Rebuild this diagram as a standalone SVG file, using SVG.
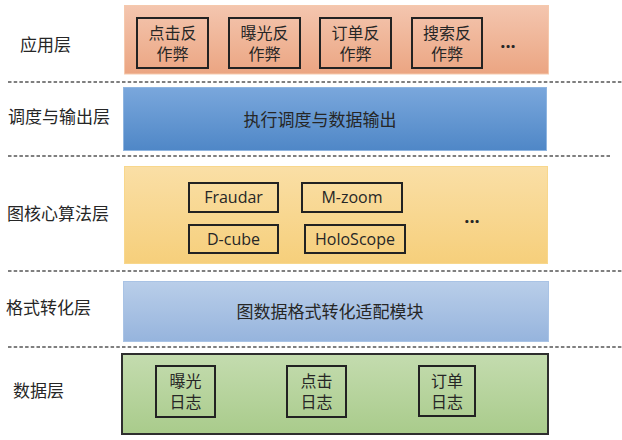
<svg xmlns="http://www.w3.org/2000/svg" width="622" height="440" viewBox="0 0 622 440">
<defs>
<linearGradient id="gOrange" x1="0" y1="0" x2="0" y2="1"><stop offset="0" stop-color="#f4c6af"/><stop offset="1" stop-color="#eba582"/></linearGradient>
<linearGradient id="gBlue" x1="0" y1="0" x2="0" y2="1"><stop offset="0" stop-color="#7aa7dc"/><stop offset="1" stop-color="#4f87c7"/></linearGradient>
<linearGradient id="gYellow" x1="0" y1="0" x2="0" y2="1"><stop offset="0" stop-color="#fadfa6"/><stop offset="1" stop-color="#f6cf7b"/></linearGradient>
<linearGradient id="gLight" x1="0" y1="0" x2="0" y2="1"><stop offset="0" stop-color="#b9cee9"/><stop offset="1" stop-color="#96b4dd"/></linearGradient>
<linearGradient id="gGreen" x1="0" y1="0" x2="0" y2="1"><stop offset="0" stop-color="#c4dcaf"/><stop offset="1" stop-color="#a9cb8b"/></linearGradient>
</defs>
<style>
text{font-family:"Open Sans","Noto Sans CJK SC",sans-serif;fill:#262626;}
.lbl{font-size:17px;}
.in{font-size:17px;text-anchor:middle;}
.in2{font-size:16px;text-anchor:middle;}
.en{font-size:16px;text-anchor:middle;}
.box{fill:none;stroke:#222;stroke-width:2;}
.sep{stroke:#555;stroke-width:1.3;stroke-dasharray:3.5 2.2;fill:none;}
.dots{font-size:18px;font-weight:bold;text-anchor:middle;}
</style>
<rect width="622" height="440" fill="#ffffff"/>

<g id="separators">
<line class="sep" x1="8" y1="82" x2="622" y2="82"/>
<line class="sep" x1="8" y1="156" x2="610" y2="156"/>
<line class="sep" x1="8" y1="271" x2="622" y2="271"/>
<line class="sep" x1="8" y1="347" x2="622" y2="347"/>
</g>
<g id="connectors"></g>

<g id="layer-app">
<text class="lbl" x="20" y="51">应用层</text>
<rect x="124.5" y="5.5" width="424" height="68.5" fill="url(#gOrange)" stroke="#f5c9ad" stroke-width="1"/>
<g id="app-click"><rect class="box" x="137" y="18" width="71" height="50"/><text class="in2" x="172.5" y="39">点击反</text><text class="in2" x="172.5" y="60">作弊</text></g>
<g id="app-expose"><rect class="box" x="229" y="18" width="71" height="50"/><text class="in2" x="264.5" y="39">曝光反</text><text class="in2" x="264.5" y="60">作弊</text></g>
<g id="app-order"><rect class="box" x="320" y="18" width="71" height="50"/><text class="in2" x="355.5" y="39">订单反</text><text class="in2" x="355.5" y="60">作弊</text></g>
<g id="app-search"><rect class="box" x="412" y="18" width="70" height="50"/><text class="in2" x="447" y="39">搜索反</text><text class="in2" x="447" y="60">作弊</text></g>
<text class="dots" x="508" y="48">...</text>
</g>

<g id="layer-schedule">
<text class="lbl" x="8" y="123">调度与输出层</text>
<rect x="123.5" y="87.5" width="423" height="63" fill="url(#gBlue)" stroke="#8fb5e0" stroke-width="1"/>
<text class="in" x="320" y="126">执行调度与数据输出</text>
</g>

<g id="layer-algo">
<text class="lbl" x="7" y="220">图核心算法层</text>
<rect x="124.5" y="166.5" width="423" height="97" fill="url(#gYellow)" stroke="#f8d78c" stroke-width="1"/>
<g id="algo-fraudar"><rect class="box" x="189" y="183" width="89" height="29"/><text class="en" x="233.5" y="203">Fraudar</text></g>
<g id="algo-mzoom"><rect class="box" x="302" y="183" width="100" height="29"/><text class="en" x="352" y="203">M-zoom</text></g>
<g id="algo-dcube"><rect class="box" x="189" y="225" width="89" height="28"/><text class="en" x="233.5" y="245">D-cube</text></g>
<g id="algo-holoscope"><rect class="box" x="305" y="225" width="100" height="28"/><text class="en" x="355" y="245">HoloScope</text></g>
<text class="dots" x="472" y="223">...</text>
</g>

<g id="layer-format">
<text class="lbl" x="6" y="314">格式转化层</text>
<rect x="123.5" y="281.5" width="425" height="60" fill="url(#gLight)" stroke="#a9c3e5" stroke-width="1"/>
<g id="format-module"><text class="in" x="330" y="318">图数据格式转化适配模块</text></g>
</g>

<g id="layer-data">
<text class="lbl" x="13" y="397">数据层</text>
<rect x="122" y="354" width="426" height="80" fill="url(#gGreen)" stroke="#2e2e2e" stroke-width="2"/>
<g id="data-expose"><rect class="box" x="156" y="366" width="59" height="51"/><text class="in2" x="185.5" y="387">曝光</text><text class="in2" x="185.5" y="408">日志</text></g>
<g id="data-click"><rect class="box" x="287" y="366" width="59" height="51"/><text class="in2" x="316.5" y="387">点击</text><text class="in2" x="316.5" y="408">日志</text></g>
<g id="data-order"><rect class="box" x="419" y="366" width="56" height="50"/><text class="in2" x="447" y="387">订单</text><text class="in2" x="447" y="408">日志</text></g>
</g>
</svg>
